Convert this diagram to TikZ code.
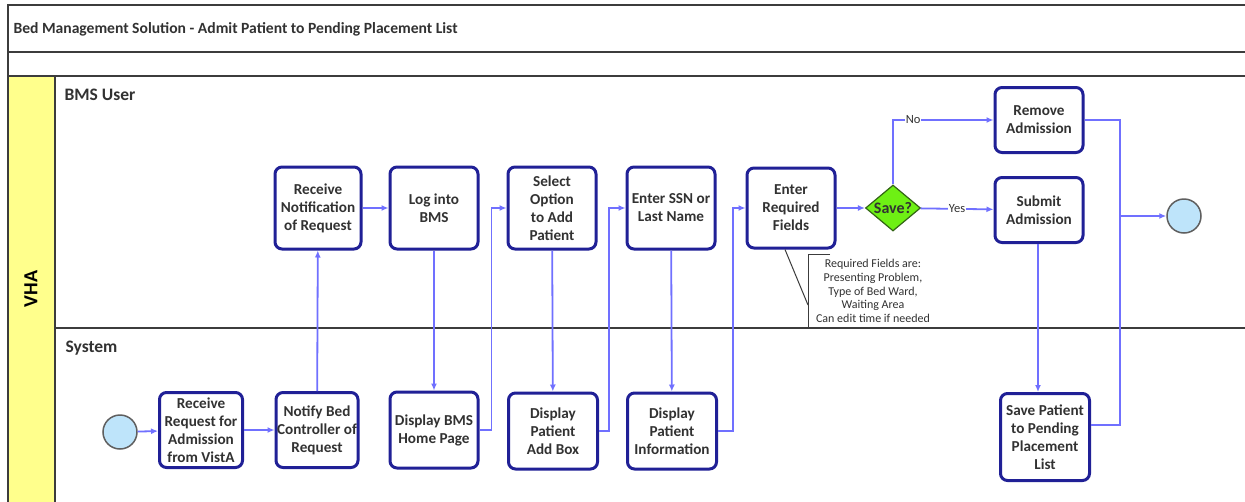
\documentclass[tikz,border=0pt]{standalone}
\usepackage{fontspec}
\setmainfont{Carlito}
\usetikzlibrary{shapes.geometric,arrows.meta}
\definecolor{navy}{RGB}{32,32,150}
\definecolor{flowc}{RGB}{112,112,255}
\definecolor{limeg}{RGB}{110,240,20}
\definecolor{limed}{RGB}{50,100,20}
\definecolor{circfill}{RGB}{190,228,250}
\definecolor{circdraw}{RGB}{95,95,95}
\definecolor{vhayellow}{RGB}{255,255,140}
\definecolor{txt}{RGB}{50,50,50}
\definecolor{framec}{RGB}{60,60,60}
\begin{document}
\begin{tikzpicture}[x=1pt,y=-1pt,
  frame/.style={draw=framec,line width=2pt},
  task/.style={rectangle,rounded corners=7pt,draw=navy,line width=3pt,fill=white,
    align=center,inner sep=0.5pt,text=txt,font=\bfseries\fontsize{15.2}{18}\selectfont},
  flow/.style={draw=flowc,line width=1.8pt,-{Latex[length=7pt,width=6pt]}},
  plain/.style={draw=flowc,line width=1.8pt},
  evt/.style={circle,draw=circdraw,line width=1.5pt,fill=circfill,minimum size=34pt,inner sep=0pt},
  lbl/.style={fill=white,inner sep=1pt,text=txt,font=\fontsize{12.5}{13}\selectfont},
  lanelbl/.style={anchor=west,text=txt,font=\bfseries\fontsize{17.5}{20}\selectfont}]
\useasboundingbox (0,0) rectangle (1245,501);
\fill[white] (0,0) rectangle (1245,501);
% pool and lanes
\fill[vhayellow] (8,76) rectangle (55,505);
\draw[frame] (1250,5) -- (8,5) -- (8,505);
\draw[frame] (8,52) -- (1250,52);
\draw[frame] (8,76) -- (1250,76);
\draw[frame] (55,76) -- (55,505);
\draw[frame] (55,328) -- (1250,328);
\node[anchor=west,text=txt,font=\bfseries\fontsize{15.6}{18}\selectfont] (title) at (10,29) {Bed Management Solution - Admit Patient to Pending Placement List};
\node[lanelbl] (lane1) at (61,95) {BMS User};
\node[lanelbl] (lane2) at (62,348) {System};
\node[rotate=90,text=black,font=\bfseries\fontsize{20}{22}\selectfont] (vha) at (31,289) {VHA};
% events
\node[evt] (start) at (120,432) {};
\node[evt] (end) at (1184,216) {};
% tasks
\node[task,minimum width=83pt,minimum height=75pt] (rreq) at (201,430) {Receive\\Request for\\Admission\\from VistA};
\node[task,minimum width=82pt,minimum height=75pt] (notify) at (317,430) {Notify Bed\\Controller of\\Request};
\node[task,minimum width=86pt,minimum height=82pt] (rnot) at (318,208) {Receive\\Notification\\of Request};
\node[task,minimum width=88pt,minimum height=82pt] (login) at (434,208) {Log into\\BMS};
\node[task,minimum width=88pt,minimum height=82pt] (selopt) at (552,208) {Select\\Option\\to Add\\Patient};
\node[task,minimum width=88pt,minimum height=82pt] (ssn) at (671,208) {Enter SSN or\\Last Name};
\node[task,minimum width=88pt,minimum height=80pt] (ereq) at (791,208) {Enter\\Required\\Fields};
\node[diamond,draw=limed,line width=1.2pt,fill=limeg,minimum width=55pt,minimum height=46pt,inner sep=0pt,
  text=txt,font=\bfseries\fontsize{16}{18}\selectfont] (save) at (893,208) {};
\node[text=txt,font=\bfseries\fontsize{16}{18}\selectfont] (savelbl) at (save) {Save?};
\node[task,minimum width=88pt,minimum height=65pt] (remove) at (1039,120) {Remove\\Admission};
\node[task,minimum width=88pt,minimum height=65pt] (submit) at (1039,210) {Submit\\Admission};
\node[task,minimum width=88pt,minimum height=76pt] (dhome) at (434,430) {Display BMS\\Home Page};
\node[task,minimum width=89pt,minimum height=76pt] (dadd) at (553,431) {Display\\Patient\\Add Box};
\node[task,minimum width=89pt,minimum height=76pt] (dinfo) at (672,431) {Display\\Patient\\Information};
\node[task,minimum width=89pt,minimum height=87pt] (savep) at (1045,437) {Save Patient\\to Pending\\Placement\\List};
% annotation
\node[align=center,text=txt,font=\fontsize{12}{13.8}\selectfont] (note) at (873,291) {Required Fields are:\\Presenting Problem,\\Type of Bed Ward,\\Waiting Area\\Can edit time if needed};
\draw[draw=framec,line width=1pt] (830,254) -- (808,254) -- (808,327) -- (830,327);
\coordinate (notec) at (808,305);
\draw[draw=framec,line width=1pt] ([xshift=-6pt]ereq.south) -- (notec);
% flows
\draw[flow] (start) -- (rreq);
\draw[flow] (rreq) -- (notify);
\draw[flow] (notify) -- (rnot);
\draw[flow] (rnot) -- (login);
\draw[flow] (login) -- (dhome);
\draw[flow] (dhome.east) -- ++(12,0) |- (selopt.west);
\draw[flow] (selopt) -- (dadd);
\draw[flow] (dadd.east) -- ++(10,0) |- (ssn.west);
\draw[flow] (ssn) -- (dinfo);
\draw[flow] (dinfo.east) -- ++(15,0) |- (ereq.west);
\draw[flow] (ereq) -- (save);
\draw[flow] (save.north) |- node[lbl,pos=0.6] {No} (remove.west);
\draw[flow] (save) -- node[lbl] {Yes} (submit);
\draw[flow] ([xshift=-1pt]submit.south) -- ([xshift=-7pt]savep.north);
\coordinate (j) at (1120,216);
\draw[flow] (remove.east) -| (j) -- (end.west);
\draw[plain] (savep.east |- 0,425) -| (j);
\end{tikzpicture}
\end{document}
